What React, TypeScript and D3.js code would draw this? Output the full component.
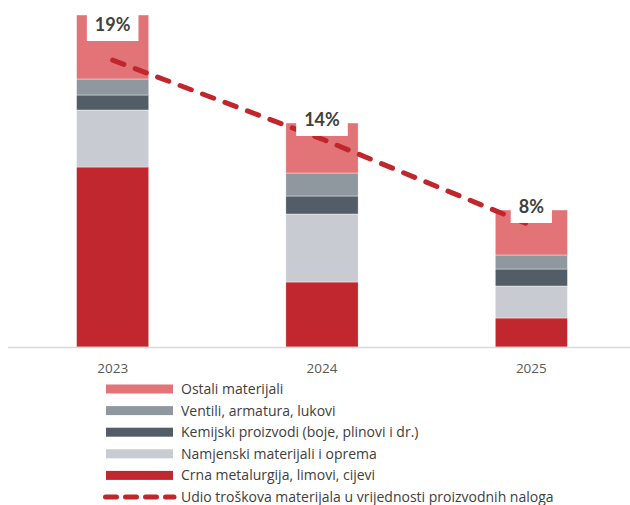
import React, { useEffect, useRef } from "react";
import * as d3 from "d3";

const years = ["2023", "2024", "2025"];

// stacked from bottom to top
const crna = [180, 65, 29];
const namjenski = [57, 68, 32];
const kemijski = [15, 18, 17];
const ventili = [16, 23, 14];
const ostali = [64, 50, 45];

// share of material costs in production orders (%)
const udio = [18.9, 13.7, 8.0];

const series = [
  { key: "crna", name: "Crna metalurgija, limovi, cijevi", color: "#C0272F", values: crna },
  { key: "namjenski", name: "Namjenski materijali i oprema", color: "#C8CBD1", values: namjenski },
  { key: "kemijski", name: "Kemijski proizvodi (boje, plinovi i dr.)", color: "#525D68", values: kemijski },
  { key: "ventili", name: "Ventili, armatura, lukovi", color: "#8F979F", values: ventili },
  { key: "ostali", name: "Ostali materijali", color: "#E27377", values: ostali },
];
const lineName = "Udio troškova materijala u vrijednosti proizvodnih naloga";

const W = 630;
const H = 505;
const FONT = "'Open Sans', sans-serif";
const FONT_BOLD = "Lato, 'Open Sans', sans-serif";

const App = () => {
  const ref = useRef<SVGSVGElement>(null);

  useEffect(() => {
    const svg = d3.select(ref.current);
    svg.selectAll("*").remove();

    const axisY = 347;
    const x = d3.scaleBand().domain(years).range([8, 636]).paddingInner(0.655).paddingOuter(0.3275);
    const y = d3.scaleLinear().domain([0, 347]).range([axisY, 0]);
    const y2 = d3.scaleLinear().domain([0, 22.86]).range([axisY, 0]);

    const table = years.map((yr, i) => {
      const row: any = { year: yr };
      series.forEach((s) => (row[s.key] = s.values[i]));
      return row;
    });
    const stacked = d3.stack().keys(series.map((s) => s.key))(table);

    // bars
    stacked.forEach((layer, li) => {
      svg
        .append("g")
        .selectAll("rect")
        .data(layer)
        .join("rect")
        .attr("x", (d: any) => x(d.data.year)!)
        .attr("width", x.bandwidth())
        .attr("y", (d) => y(d[1]))
        .attr("height", (d) => y(d[0]) - y(d[1]))
        .attr("fill", series[li].color)
        .attr("stroke", "#fff")
        .attr("stroke-width", 0.4);
    });

    // axis line
    svg
      .append("line")
      .attr("x1", 8)
      .attr("x2", W)
      .attr("y1", axisY + 0.5)
      .attr("y2", axisY + 0.5)
      .attr("stroke", "#D9D9D9")
      .attr("stroke-width", 1.5);

    // year labels
    svg
      .append("g")
      .selectAll("text")
      .data(years)
      .join("text")
      .attr("x", (d) => x(d)! + x.bandwidth() / 2)
      .attr("y", 373)
      .attr("text-anchor", "middle")
      .style("font-family", FONT)
      .style("font-size", "13.5px")
      .style("fill", "#595959")
      .text((d) => d);

    // dashed line
    const cx = (i: number) => x(years[i])! + x.bandwidth() / 2;
    const line = d3
      .line<number>()
      .x((_, i) => cx(i))
      .y((d) => y2(d));
    svg
      .append("path")
      .attr("d", line(udio)!)
      .attr("fill", "none")
      .attr("stroke", "#C0272D")
      .attr("stroke-width", 5)
      .attr("stroke-linecap", "round")
      .attr("stroke-dasharray", "12 12");

    // percent labels in white boxes
    const totals = table.map((r) => d3.sum(series, (s) => r[s.key]));
    udio.forEach((v, i) => {
      const cy = Math.max(y(totals[i]) - 3, 25);
      const label = `${Math.round(v)}%`;
      const g = svg.append("g");
      const t = g
        .append("text")
        .attr("x", cx(i))
        .attr("y", cy + 6)
        .attr("text-anchor", "middle")
        .style("font-family", FONT_BOLD)
        .style("font-size", "18px")
        .style("font-weight", "bold")
        .style("fill", "#404040")
        .text(label);
      const bw = (t.node() as SVGTextElement).getComputedTextLength() + 16;
      g.insert("rect", "text")
        .attr("x", cx(i) - bw / 2)
        .attr("y", cy - 15)
        .attr("width", bw)
        .attr("height", 31)
        .attr("fill", "#fff");
    });

    // legend
    const legendItems = [...series].reverse();
    const lg = svg.append("g");
    const rowY = (i: number) => 389 + i * 21.6;
    legendItems.forEach((s, i) => {
      lg.append("rect")
        .attr("x", 106)
        .attr("y", rowY(i) - 4.5)
        .attr("width", 67)
        .attr("height", 9)
        .attr("fill", s.color);
      lg.append("text")
        .attr("x", 181)
        .attr("y", rowY(i) + 5)
        .style("font-family", FONT)
        .style("font-size", "14px")
        .style("fill", "#404040")
        .text(s.name);
    });
    const li = legendItems.length;
    lg.append("line")
      .attr("x1", 105.5)
      .attr("x2", 174)
      .attr("y1", rowY(li))
      .attr("y2", rowY(li))
      .attr("stroke", "#C0272D")
      .attr("stroke-width", 5)
      .attr("stroke-linecap", "round")
      .attr("stroke-dasharray", "11 9");
    lg.append("text")
      .attr("x", 181)
      .attr("y", rowY(li) + 4.5)
      .style("font-family", FONT)
      .style("font-size", "14px")
      .style("fill", "#404040")
      .text(lineName);
  }, []);

  return (
    <svg
      ref={ref}
      width={W}
      height={H}
      style={{ position: "absolute", left: 0, top: 0, background: "#fff" }}
    />
  );
};

export default App;
